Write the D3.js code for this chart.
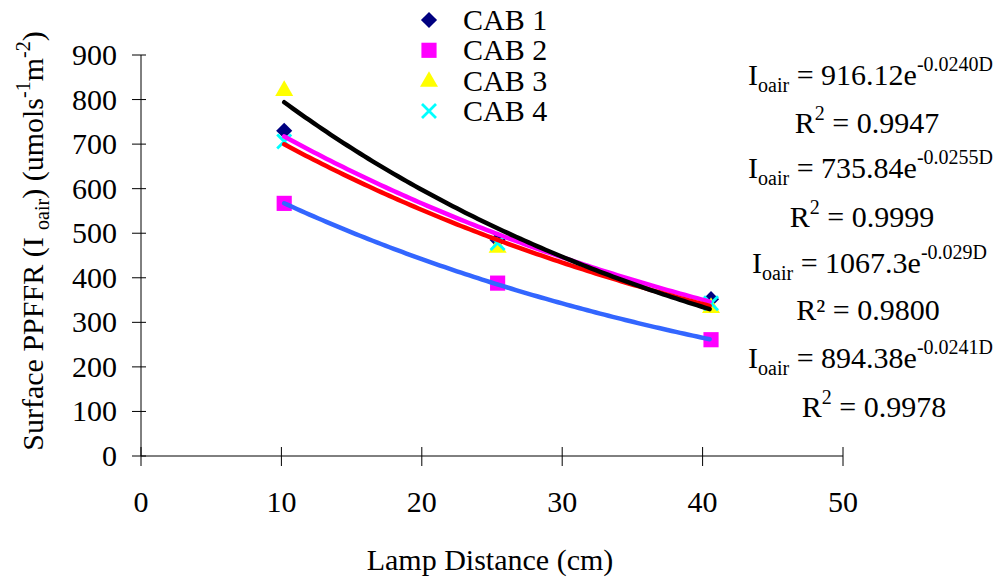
<!DOCTYPE html>
<html lang="en">
<head>
<meta charset="UTF-8">
<title>Surface PPFFR vs Lamp Distance</title>
<script src="https://cdnjs.cloudflare.com/ajax/libs/d3/7.8.5/d3.min.js"></script>
<style>
	*{ padding:0; margin:0; }
	body{ background:#fff; }
	svg text{ fill:#000; }
	.axis line{ stroke:#000; stroke-width:1; }
</style>
</head>
<body>
<div id="container"></div>
<script>
	// data
	var distances=[10.2,25.4,40.6]
	var seriesNames=['CAB 1','CAB 2','CAB 3','CAB 4']
	var cab1=[730,485,352]
	var cab2=[567,388,261]
	var cab3=[822,470,335]
	var cab4=[706,478,343]
	// fitted exponential trendlines: I = a*exp(b*D)
	var fitA=[916.12,735.84,1067.3,894.38]
	var fitB=['-0.0240','-0.0255','-0.029','-0.0241']
	var fitR2=['0.9947','0.9999','0.9800','0.9978']
	var xTicks=[0,10,20,30,40,50]
	var yTicks=[0,100,200,300,400,500,600,700,800,900]

	var width=1005,height=581,
	margin={left:141,top:55,right:162,bottom:125},
	g_width=width-margin.left-margin.right,
	g_height=height-margin.top-margin.bottom

	var svg=d3.select('#container').append('svg')
	.attr('width',width).attr('height',height)
	.attr('font-family','"Liberation Serif", "DejaVu Serif", serif')

	var g=svg.append('g')
	.attr('transform','translate('+margin.left+','+margin.top+')')

	var scale_x=d3.scaleLinear().domain([0,50]).range([0,g_width])
	var scale_y=d3.scaleLinear().domain([0,900]).range([g_height,0])

	// y axis (cross ticks)
	var yAxis=g.append('g').attr('class','axis')
	yAxis.append('line').attr('x1',0).attr('x2',0).attr('y1',0).attr('y2',g_height)
	yAxis.selectAll('line.t').data(yTicks).enter().append('line').attr('class','t')
	.attr('x1',-9).attr('x2',5)
	.attr('y1',function(d){return scale_y(d)}).attr('y2',function(d){return scale_y(d)})
	yAxis.selectAll('text').data(yTicks).enter().append('text')
	.attr('x',-24).attr('y',function(d){return scale_y(d)+10})
	.attr('text-anchor','end').attr('font-size',30)
	.text(function(d){return d})

	// x axis
	var xAxis=g.append('g').attr('class','axis')
	xAxis.append('line').attr('x1',0).attr('x2',g_width).attr('y1',g_height).attr('y2',g_height)
	xAxis.selectAll('line.t').data(xTicks).enter().append('line').attr('class','t')
	.attr('x1',function(d){return scale_x(d)}).attr('x2',function(d){return scale_x(d)})
	.attr('y1',g_height-9).attr('y2',g_height+10)
	xAxis.selectAll('text').data(xTicks).enter().append('text')
	.attr('x',function(d){return scale_x(d)}).attr('y',g_height+56)
	.attr('text-anchor','middle').attr('font-size',30)
	.text(function(d){return d})

	// markers
	function drawMarker(sel,i){
		if(i===0){
			sel.append('path').attr('d',d3.symbol(d3.symbolSquare,130)()).attr('fill','#000080').attr('transform','rotate(45)')
		}else if(i===1){
			sel.append('path').attr('d',d3.symbol(d3.symbolSquare,230)()).attr('fill','#ff00ff')
		}else if(i===2){
			sel.append('path').attr('d',d3.symbol(d3.symbolTriangle,140)()).attr('fill','#ffff00').attr('transform','translate(0,1)')
		}else{
			sel.append('path').attr('d','M-7,-7L7,7M-7,7L7,-7').attr('stroke','#00ffff').attr('stroke-width',2.8).attr('fill','none')
		}
	}
	var allSeries=[cab1,cab2,cab3,cab4]
	allSeries.forEach(function(vals,i){
		vals.forEach(function(v,j){
			var m=g.append('g').attr('transform','translate('+scale_x(distances[j])+','+scale_y(v)+')')
			drawMarker(m,i)
		})
	})

	// trendlines
	var trendColors=['#ff00ff','#3366ff','#000000','#ff0000']
	var drawOrder=[0,3,1,2]
	var line_generator=d3.line()
	.x(function(d){return scale_x(d[0])})
	.y(function(d){return scale_y(d[1])})
	drawOrder.forEach(function(i){
		var b=+fitB[i]
		var pts=d3.range(distances[0],distances[2]+0.01,0.3).map(function(D){return [D,fitA[i]*Math.exp(b*D)]})
		g.append('path').attr('d',line_generator(pts))
		.attr('fill','none').attr('stroke',trendColors[i]).attr('stroke-width',4.5).attr('stroke-linecap','round')
	})

	// legend
	var legend=svg.append('g')
	seriesNames.forEach(function(name,i){
		var y=20+i*30.3
		var m=legend.append('g').attr('transform','translate(429,'+y+')')
		drawMarker(m,i)
		legend.append('text').attr('x',463).attr('y',y+10).attr('font-size',30).text(name)
	})

	// equations
	var eqText=svg.append('g').attr('font-size',30)
	var eqPos=[{x:993,y:85,rx:867,ry:133},{x:993,y:178,rx:862,ry:227},{x:987,y:273,rx:868,ry:320},{x:993,y:368,rx:874,ry:417}]
	fitA.forEach(function(a,i){
		var t=eqText.append('text').attr('x',eqPos[i].x).attr('y',eqPos[i].y).attr('text-anchor','end')
		t.append('tspan').text('I')
		t.append('tspan').attr('dy',7).attr('font-size',20).text('oair')
		t.append('tspan').attr('dy',-7).text(' = '+a+'e')
		t.append('tspan').attr('dy',-14).attr('font-size',20).text(fitB[i]+'D')
		var r=eqText.append('text').attr('x',eqPos[i].rx).attr('y',eqPos[i].ry).attr('text-anchor','middle')
		if(i===2){
			r.text('R\u00b2 = '+fitR2[i])
		}else{
			r.append('tspan').text('R')
			r.append('tspan').attr('dy',-13).attr('font-size',20).text('2')
			r.append('tspan').attr('dy',13).text(' = '+fitR2[i])
		}
	})

	// axis titles
	svg.append('text').attr('x',490).attr('y',570).attr('text-anchor','middle')
	.attr('font-size',30).text('Lamp Distance (cm)')

	var yt=svg.append('text').attr('transform','translate(43,241) rotate(-90)')
	.attr('text-anchor','middle').attr('font-size',30)
	yt.append('tspan').text('Surface PPFFR (I ')
	yt.append('tspan').attr('dy',6).attr('font-size',20).text('oair')
	yt.append('tspan').attr('dy',-6).text(') (umols')
	yt.append('tspan').attr('dy',-13).attr('font-size',20).text('-1')
	yt.append('tspan').attr('dy',13).text('m')
	yt.append('tspan').attr('dy',-13).attr('font-size',20).text('-2')
	yt.append('tspan').attr('dy',13).text(')')
</script>
</body>
</html>
